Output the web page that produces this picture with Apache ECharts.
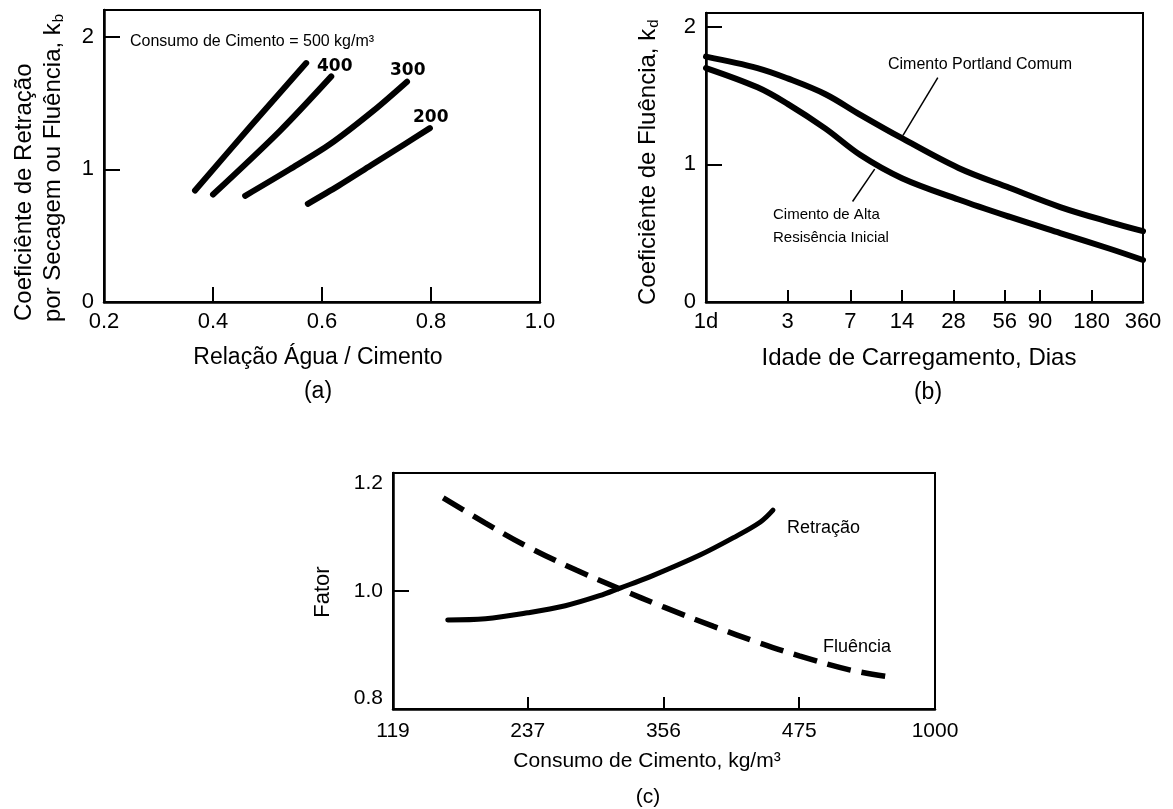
<!DOCTYPE html>
<html>
<head>
<meta charset="utf-8">
<script src="https://cdn.jsdelivr.net/npm/echarts@6/dist/echarts.min.js"></script>
<style>html,body{margin:0;padding:0;background:#fff}#c{width:1173px;height:809px}</style>
</head>
<body>
<div id="c"></div>
<script>
// ---------- Panel (a): water/cement ratio vs k_b ----------
const wc500 = [0.367, 0.470, 0.571];
const kb500 = [0.84, 1.33, 1.80];
const wc400 = [0.400, 0.523, 0.617];
const kb400 = [0.81, 1.29, 1.70];
const wc300 = [0.459, 0.541, 0.615, 0.694, 0.756];
const kb300 = [0.80, 1.00, 1.19, 1.44, 1.66];
const wc200 = [0.574, 0.630, 0.690, 0.750, 0.798];
const kb200 = [0.74, 0.875, 1.03, 1.185, 1.31];
const aXTicks = [0.2, 0.4, 0.6, 0.8, 1.0];
const aXTickLabels = ['0.2', '0.4', '0.6', '0.8', '1.0'];
const aYTicks = [0, 1, 2];
const aYTickLabels = ['0', '1', '2'];

// ---------- Panel (b): age at loading (days) vs k_d ----------
const days = [1, 2, 3, 5, 8, 14, 30, 60, 118, 230, 360];
const kdPortland = [1.783, 1.70, 1.625, 1.51, 1.36, 1.19, 0.974, 0.828, 0.690, 0.581, 0.515];
const kdAlta = [1.70, 1.56, 1.44, 1.26, 1.068, 0.90, 0.745, 0.618, 0.501, 0.387, 0.305];
const bXTicks = [1, 3, 7, 14, 28, 56, 90, 180, 360];
const bXTickLabels = ['1d', '3', '7', '14', '28', '56', '90', '180', '360'];
const bYTicks = [0, 1, 2];
const bYTickLabels = ['0', '1', '2'];
const leaderPortland = [[22.7, 1.63], [14.2, 1.21]];
const leaderAlta = [[9.7, 0.965], [7.2, 0.73]];

// ---------- Panel (c): cement content vs factor ----------
const cRetrX = [167, 200, 237, 270, 300, 318, 344, 388, 417, 441, 452];
const cRetrY = [0.951, 0.953, 0.963, 0.975, 0.992, 1.005, 1.024, 1.061, 1.090, 1.117, 1.137];
const cFluX = [163, 200, 237, 280, 316, 356, 400, 440, 475, 520, 559];
const cFluY = [1.158, 1.115, 1.075, 1.035, 1.005, 0.973, 0.940, 0.912, 0.890, 0.866, 0.853];
const cXTicks = [119, 237, 356, 475, 594];
const cXTickLabels = ['119', '237', '356', '475', '1000'];
const cYTicks = [0.8, 1.0, 1.2];
const cYTickLabels = ['0.8', '1.0', '1.2'];

const F = '"Liberation Sans", Arial, sans-serif';
const D = '"DejaVu Sans", sans-serif';
const lg = v => Math.log10(v);
const zip = (xs, ys, fx) => xs.map((x, i) => [fx ? fx(x) : x, ys[i]]);
const lblFrom = (ticks, labels, fx) => v => {
  let best = 0, bd = Infinity;
  ticks.forEach((t, i) => { const d = Math.abs((fx ? fx(t) : t) - v); if (d < bd) { bd = d; best = i; } });
  return labels[best];
};

const axisLine = { show: true, onZero: false, lineStyle: { color: '#000', width: 2.5 } };
const lineSty = w => ({ color: '#000', width: w, cap: 'round', join: 'round' });

const chart = echarts.init(document.getElementById('c'), null, { renderer: 'canvas' });

const option = {
  animation: false,
  backgroundColor: '#fff',
  grid: [
    { left: 104, top: 10, width: 436, height: 292, show: true, borderColor: '#000', borderWidth: 2, containLabel: false },
    { left: 706, top: 13, width: 437, height: 289, show: true, borderColor: '#000', borderWidth: 2, containLabel: false },
    { left: 393, top: 473, width: 542, height: 236, show: true, borderColor: '#000', borderWidth: 2, containLabel: false }
  ],
  xAxis: [
    { gridIndex: 0, type: 'value', min: 0.2, max: 1.0, axisLine,
      axisTick: { inside: true, length: 15, lineStyle: { color: '#000', width: 2 }, customValues: aXTicks },
      axisLabel: { customValues: aXTicks, formatter: lblFrom(aXTicks, aXTickLabels), color: '#000', fontFamily: F, fontSize: 22, margin: 9 },
      splitLine: { show: false } },
    { gridIndex: 1, type: 'value', min: 0, max: lg(360), axisLine,
      axisTick: { inside: true, length: 12, lineStyle: { color: '#000', width: 2 }, customValues: bXTicks.map(lg) },
      axisLabel: { customValues: bXTicks.map(lg), formatter: lblFrom(bXTicks, bXTickLabels, lg), color: '#000', fontFamily: F, fontSize: 22, margin: 9 },
      splitLine: { show: false } },
    { gridIndex: 2, type: 'value', min: 119, max: 594, axisLine,
      axisTick: { inside: true, length: 12, lineStyle: { color: '#000', width: 2 }, customValues: cXTicks },
      axisLabel: { customValues: cXTicks, formatter: lblFrom(cXTicks, cXTickLabels), color: '#000', fontFamily: F, fontSize: 21, margin: 12 },
      splitLine: { show: false } }
  ],
  yAxis: [
    { gridIndex: 0, type: 'value', min: 0, max: 2.2, axisLine,
      axisTick: { inside: true, length: 16, lineStyle: { color: '#000', width: 2 }, customValues: aYTicks },
      axisLabel: { customValues: aYTicks, formatter: lblFrom(aYTicks, aYTickLabels), color: '#000', fontFamily: F, fontSize: 22, margin: 10 },
      splitLine: { show: false } },
    { gridIndex: 1, type: 'value', min: 0, max: 2.1, axisLine,
      axisTick: { inside: true, length: 16, lineStyle: { color: '#000', width: 2 }, customValues: bYTicks },
      axisLabel: { customValues: bYTicks, formatter: lblFrom(bYTicks, bYTickLabels), color: '#000', fontFamily: F, fontSize: 22, margin: 10 },
      splitLine: { show: false } },
    { gridIndex: 2, type: 'value', min: 0.8, max: 1.2, axisLine,
      axisTick: { inside: true, length: 16, lineStyle: { color: '#000', width: 2 }, customValues: cYTicks },
      axisLabel: { customValues: cYTicks, formatter: lblFrom(cYTicks, cYTickLabels), color: '#000', fontFamily: F, fontSize: 21, margin: 10,
        verticalAlignMinLabel: 'bottom', verticalAlignMaxLabel: 'top' },
      splitLine: { show: false } }
  ],
  series: [
    { type: 'line', xAxisIndex: 0, yAxisIndex: 0, data: zip(wc500, kb500), smooth: 0.3, showSymbol: false, lineStyle: lineSty(6) },
    { type: 'line', xAxisIndex: 0, yAxisIndex: 0, data: zip(wc400, kb400), smooth: 0.3, showSymbol: false, lineStyle: lineSty(6) },
    { type: 'line', xAxisIndex: 0, yAxisIndex: 0, data: zip(wc300, kb300), smooth: 0.3, showSymbol: false, lineStyle: lineSty(6) },
    { type: 'line', xAxisIndex: 0, yAxisIndex: 0, data: zip(wc200, kb200), smooth: 0.3, showSymbol: false, lineStyle: lineSty(6) },
    { type: 'line', xAxisIndex: 1, yAxisIndex: 1, data: zip(days, kdPortland, lg), smooth: 0.35, showSymbol: false, lineStyle: lineSty(6),
      markLine: { silent: true, symbol: 'none', label: { show: false }, lineStyle: { color: '#000', width: 1.5, type: 'solid' },
        data: [[{ coord: [lg(leaderPortland[0][0]), leaderPortland[0][1]] }, { coord: [lg(leaderPortland[1][0]), leaderPortland[1][1]] }]] } },
    { type: 'line', xAxisIndex: 1, yAxisIndex: 1, data: zip(days, kdAlta, lg), smooth: 0.35, showSymbol: false, lineStyle: lineSty(6),
      markLine: { silent: true, symbol: 'none', label: { show: false }, lineStyle: { color: '#000', width: 1.5, type: 'solid' },
        data: [[{ coord: [lg(leaderAlta[0][0]), leaderAlta[0][1]] }, { coord: [lg(leaderAlta[1][0]), leaderAlta[1][1]] }]] } },
    { type: 'line', xAxisIndex: 2, yAxisIndex: 2, data: zip(cRetrX, cRetrY), smooth: 0.35, showSymbol: false, lineStyle: lineSty(5) },
    { type: 'line', xAxisIndex: 2, yAxisIndex: 2, data: zip(cFluX, cFluY), smooth: 0.35, showSymbol: false,
      lineStyle: { color: '#000', width: 5.5, type: [24, 11], cap: 'butt' } }
  ],
  graphic: [
    // panel (a) titles
    { type: 'text', x: 24, y: 321, rotation: Math.PI / 2, style: { text: 'Coeficiênte de Retração', font: '24px ' + F, fill: '#000', align: 'left', verticalAlign: 'middle' } },
    { type: 'text', x: 53, y: 322, rotation: Math.PI / 2, style: { text: '{m|por Secagem ou Fluência, k}{s|b}', fill: '#000', align: 'left', verticalAlign: 'middle',
      rich: { m: { fontSize: 24, fontFamily: F, fill: '#000' }, s: { fontSize: 15, fontFamily: F, fill: '#000', verticalAlign: 'bottom', padding: [12, 0, 0, 1] } } } },
    { type: 'text', x: 318, y: 358, style: { text: 'Relação Água / Cimento', font: '23px ' + F, fill: '#000', align: 'center', verticalAlign: 'middle' } },
    { type: 'text', x: 318, y: 392, style: { text: '(a)', font: '23px ' + F, fill: '#000', align: 'center', verticalAlign: 'middle' } },
    { type: 'text', x: 130, y: 42, style: { text: 'Consumo de Cimento = 500 kg/m³', font: '16px ' + F, fill: '#000', align: 'left', verticalAlign: 'middle' } },
    { type: 'text', x: 317, y: 67, style: { text: '400', font: 'bold 17px ' + D, fill: '#000', align: 'left', verticalAlign: 'middle' } },
    { type: 'text', x: 390, y: 71, style: { text: '300', font: 'bold 17px ' + D, fill: '#000', align: 'left', verticalAlign: 'middle' } },
    { type: 'text', x: 413, y: 118, style: { text: '200', font: 'bold 17px ' + D, fill: '#000', align: 'left', verticalAlign: 'middle' } },
    // panel (b)
    { type: 'text', x: 648, y: 305, rotation: Math.PI / 2, style: { text: '{m|Coeficiênte de Fluência, k}{s|d}', fill: '#000', align: 'left', verticalAlign: 'middle',
      rich: { m: { fontSize: 24, fontFamily: F, fill: '#000' }, s: { fontSize: 15, fontFamily: F, fill: '#000', verticalAlign: 'bottom', padding: [12, 0, 0, 1] } } } },
    { type: 'text', x: 919, y: 358, style: { text: 'Idade de Carregamento, Dias', font: '24px ' + F, fill: '#000', align: 'center', verticalAlign: 'middle' } },
    { type: 'text', x: 928, y: 393, style: { text: '(b)', font: '23px ' + F, fill: '#000', align: 'center', verticalAlign: 'middle' } },
    { type: 'text', x: 888, y: 65, style: { text: 'Cimento Portland Comum', font: '16px ' + F, fill: '#000', align: 'left', verticalAlign: 'middle' } },
    { type: 'text', x: 773, y: 215, style: { text: 'Cimento de Alta', font: '15px ' + F, fill: '#000', align: 'left', verticalAlign: 'middle' } },
    { type: 'text', x: 773, y: 238, style: { text: 'Resisência Inicial', font: '15px ' + F, fill: '#000', align: 'left', verticalAlign: 'middle' } },
    // panel (c)
    { type: 'text', x: 323, y: 592, rotation: Math.PI / 2, style: { text: 'Fator', font: '22px ' + F, fill: '#000', align: 'center', verticalAlign: 'middle' } },
    { type: 'text', x: 647, y: 761, style: { text: 'Consumo de Cimento, kg/m³', font: '21px ' + F, fill: '#000', align: 'center', verticalAlign: 'middle' } },
    { type: 'text', x: 648, y: 797, style: { text: '(c)', font: '21px ' + F, fill: '#000', align: 'center', verticalAlign: 'middle' } },
    { type: 'text', x: 787, y: 528, style: { text: 'Retração', font: '18px ' + F, fill: '#000', align: 'left', verticalAlign: 'middle' } },
    { type: 'text', x: 823, y: 647, style: { text: 'Fluência', font: '18px ' + F, fill: '#000', align: 'left', verticalAlign: 'middle' } }
  ]
};
chart.setOption(option);
</script>
</body>
</html>
